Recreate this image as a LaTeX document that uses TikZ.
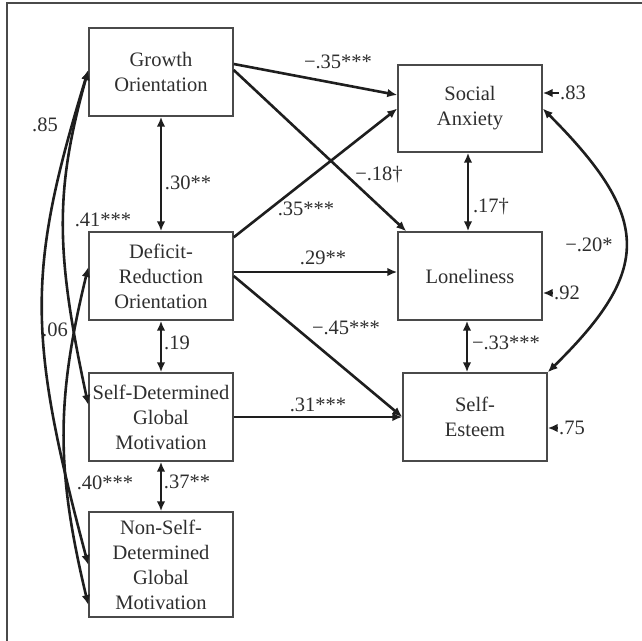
\documentclass[tikz,border=0pt]{standalone}
\usepackage{fontspec}
\setmainfont{Liberation Serif}
\usetikzlibrary{arrows.meta}
\definecolor{ink}{HTML}{1E1E1E}
\definecolor{txt}{HTML}{2E2E2E}
\definecolor{framec}{HTML}{4A4A4A}
\begin{document}
\begin{tikzpicture}[x=1pt,y=-1pt,
  box/.style={draw=framec,line width=1.4pt,minimum width=144pt,minimum height=88pt,inner sep=0pt,align=center,text=txt,font=\fontsize{20.5}{25}\selectfont},
  lab/.style={text=txt,font=\fontsize{20.5}{24}\selectfont,inner sep=1pt},
  arr/.style={draw=ink,line width=2.6pt,-{Latex[length=10pt,width=8.5pt]}},
  darr/.style={draw=ink,line width=2.6pt,{Latex[length=10pt,width=8.5pt]}-{Latex[length=10pt,width=8.5pt]}}]
\useasboundingbox (0,0) rectangle (642,640);
\draw[framec,line width=1.4pt] (7,641) -- (7,3) -- (643,3);
% boxes
\node[box] (G) at (161,72) {Growth\\Orientation};
\node[box] (D) at (161,276) {Deficit-\\Reduction\\Orientation};
\node[box] (S) at (161,417) {Self-Determined\\Global\\Motivation};
\node[box,minimum height=105pt] (N) at (161,564.5) {Non-Self-\\Determined\\Global\\Motivation};
\node[box,minimum height=87pt] (SA) at (470,108.5) {Social\\Anxiety};
\node[box] (L) at (470,276) {Loneliness};
\node[box] (SE) at (475,417) {Self-\\Esteem};
% paths
\draw[arr] ([yshift=8pt]G.east) -- ([yshift=13.5pt]SA.west);
\draw[arr] ([yshift=2pt]G.east) -- ([xshift=9pt]L.north west);
\draw[arr] ([yshift=-6pt]D.north east) -- (SA.west);
\draw[arr] ([yshift=4pt]D.east) -- ([yshift=4pt]L.west);
\draw[arr] (D.east) -- (SE.west);
\draw[arr] (S.east) -- (SE.west);
\draw[darr] (G.south) -- (D.north);
\draw[darr] (D.south) -- (S.north);
\draw[darr] (S.south) -- (N.north);
\draw[darr] ([xshift=-2pt]SA.south) -- ([xshift=-2pt]L.north);
\draw[darr] ([xshift=-3pt]L.south) -- ([xshift=-8pt]SE.north);
\draw[darr] (SA.east) .. controls (652,218) and (652,270) .. (SE.north east);
% left correlation curves
\draw[darr] ([yshift=2pt]G.west) .. controls (27,270) and (27,335) .. ([yshift=-0.5pt]N.west);
\draw[darr] ([yshift=2pt]G.west) .. controls (55,190) and (55,250) .. ([yshift=12pt]S.west);
\draw[darr] ([yshift=9pt]D.west) .. controls (56,400) and (56,470) .. ([yshift=-40.5pt]N.west);
% labels
\node[lab] (l85) at (45,125) {.85};
\node[lab] (l41) at (103,220) {.41***};
\node[lab] (l06) at (55,330) {.06};
\node[lab] (l40) at (105,483) {.40***};
\node[lab] (l30) at (188,183) {.30**};
\node[lab] (l19) at (177,343) {.19};
\node[lab] (l37) at (187,482) {.37**};
\node[lab] (lm35) at (338,62) {−.35***};
\node[lab] (lm18) at (379,175) {−.18†};
\node[lab] (l35) at (306,209) {.35***};
\node[lab] (l29) at (323,258) {.29**};
\node[lab] (lm45) at (346,328) {−.45***};
\node[lab] (l31) at (318,405) {.31***};
\node[lab] (l17) at (491,207) {.17†};
\node[lab] (lm33) at (506,343) {−.33***};
\node[lab] (lm20) at (589,245) {−.20*};
% residuals
\node[lab] (e83) at (573,93) {.83};
\node[lab] (e92) at (567,293) {.92};
\node[lab] (e75) at (572,428) {.75};
\draw[arr] (e83.west) -- ([yshift=15.5pt]SA.east);
\draw[arr] (e92.west) -- ([yshift=-17pt]L.east);
\draw[arr] (e75.west) -- ([yshift=-11pt]SE.east);
\end{tikzpicture}
\end{document}
